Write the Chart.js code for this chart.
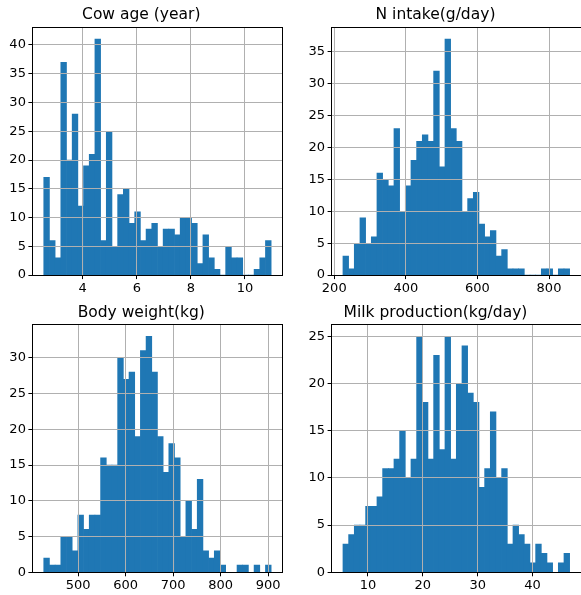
<!DOCTYPE html>
<html>
<head>
<meta charset="utf-8">
<script src="https://cdn.jsdelivr.net/npm/chart.js@4"></script>
<style>
  html, body { margin: 0; padding: 0; background: #fff; overflow: hidden; }
  body { width: 581px; height: 595px; position: relative; }
  canvas { position: absolute; }
</style>
</head>
<body>
<canvas id="ageChart" width="290" height="297" style="left:0;top:0"></canvas>
<canvas id="nChart" width="291" height="297" style="left:290px;top:0"></canvas>
<canvas id="bwChart" width="290" height="298" style="left:0;top:297px"></canvas>
<canvas id="milkChart" width="291" height="298" style="left:290px;top:297px"></canvas>
<script>
// histogram counts, 40 bins each
const ageCounts = [17, 6, 3, 37, 20, 28, 12, 19, 21, 41, 6, 25, 5, 14, 15, 9, 11, 6, 8, 9,
                   5, 8, 8, 7, 10, 10, 9, 2, 7, 3, 1, 0, 5, 3, 3, 0, 0, 1, 3, 6];
const nIntakeCounts = [3, 1, 5, 9, 5, 6, 16, 15, 14, 23, 10, 14, 18, 21, 22, 21, 32, 17, 37, 23,
                       21, 10, 12, 13, 8, 6, 7, 3, 4, 1, 1, 1, 0, 0, 0, 1, 1, 0, 1, 1];
const bodyWeightCounts = [2, 1, 1, 5, 5, 3, 8, 6, 8, 8, 16, 15, 15, 30, 27, 28, 19, 31, 33, 28,
                          19, 14, 18, 16, 5, 10, 6, 13, 3, 2, 3, 1, 0, 0, 1, 1, 0, 1, 0, 1];
const milkCounts = [3, 4, 5, 5, 7, 7, 8, 11, 11, 12, 15, 10, 12, 25, 18, 12, 23, 13, 25, 12,
                    20, 24, 19, 18, 9, 11, 17, 10, 11, 3, 5, 4, 3, 1, 3, 2, 1, 0, 1, 2];

// data range covered by the bins (first edge, last edge)
const ageRange = [2.56, 10.97];
const nIntakeRange = [224.3, 857.7];
const bodyWeightRange = [427.6, 906.3];
const milkRange = [5.44, 46.76];

// axis limits and tick steps
const ageXLim = [2.14, 11.39], ageXStep = 2, ageYMax = 43.05;
const nIntakeXLim = [192.6, 889.4], nIntakeXStep = 200, nIntakeYMax = 38.85;
const bodyWeightXLim = [403.7, 930.2], bodyWeightXStep = 100, bodyWeightYMax = 34.65;
const milkXLim = [3.37, 48.83], milkXStep = 10, milkYMax = 26.25;
const yStep = 5;

Chart.defaults.font.family = "'DejaVu Sans', sans-serif";
Chart.defaults.color = '#000';

function alignPx(v) {
    return Math.round(v - 0.5) + 0.5;
}

// matplotlib-style box around the axes
const spines = {
    id: 'spines',
    afterDraw(chart) {
        const a = chart.chartArea;
        const c = chart.ctx;
        c.save();
        c.strokeStyle = '#000';
        c.lineWidth = 1;
        const l = alignPx(a.left), r = alignPx(a.right);
        const t = alignPx(a.top), b = alignPx(a.bottom);
        c.strokeRect(l, t, r - l, b - t);
        c.restore();
    }
};

function binCenters(range, n) {
    const w = (range[1] - range[0]) / n;
    const out = [];
    for (let i = 0; i < n; i++) out.push(range[0] + (i + 0.5) * w);
    return out;
}

function makeHist(id, title, counts, range, xLim, xStep, yMax, area) {
    const canvas = document.getElementById(id);
    const W = canvas.width, H = canvas.height;
    const centers = binCenters(range, counts.length);
    const points = counts.map((c, i) => ({ x: centers[i], y: c }));
    const titleLine = 15.5 * 1.2;

    return new Chart(canvas, {
        type: 'bar',
        data: {
            datasets: [{
                data: points,
                backgroundColor: '#1f77b4',
                borderWidth: 0,
                barPercentage: 1,
                categoryPercentage: 1
            }]
        },
        options: {
            responsive: false,
            animation: false,
            devicePixelRatio: 1,
            layout: {
                padding: { left: 0, top: 0, right: W - area.right, bottom: H - area.bottom - 20 }
            },
            plugins: {
                legend: { display: false },
                tooltip: { enabled: false },
                title: {
                    display: true,
                    text: title,
                    font: { size: 15.5, weight: 'normal', lineHeight: 1.2 },
                    padding: { top: area.top - titleLine - 2.8, bottom: 2.8 }
                }
            },
            scales: {
                x: {
                    type: 'linear',
                    min: xLim[0],
                    max: xLim[1],
                    offset: false,
                    afterFit: s => { s.height = 20; },
                    border: { display: false },
                    grid: { offset: false, color: '#b0b0b0', lineWidth: 1, z: 1,
                            tickColor: '#000', tickLength: 4, tickWidth: 1 },
                    ticks: { stepSize: xStep, includeBounds: false, maxRotation: 0,
                             padding: 2, font: { size: 13 } }
                },
                y: {
                    min: 0,
                    max: yMax,
                    afterFit: s => { s.width = area.left; },
                    border: { display: false },
                    grid: { color: '#b0b0b0', lineWidth: 1, z: 1,
                            tickColor: '#000', tickLength: 4, tickWidth: 1 },
                    ticks: { stepSize: yStep, includeBounds: false, padding: 2.5, font: { size: 13 } }
                }
            }
        },
        plugins: [spines]
    });
}

makeHist('ageChart', 'Cow age (year)', ageCounts, ageRange, ageXLim, ageXStep, ageYMax,
         { left: 32.4, top: 27.4, right: 282.5, bottom: 275.1 });
makeHist('nChart', 'N intake(g/day)', nIntakeCounts, nIntakeRange, nIntakeXLim, nIntakeXStep, nIntakeYMax,
         { left: 41.6, top: 27.4, right: 291, bottom: 275.1 });
makeHist('bwChart', 'Body weight(kg)', bodyWeightCounts, bodyWeightRange, bodyWeightXLim, bodyWeightXStep, bodyWeightYMax,
         { left: 32.4, top: 27.6, right: 282.5, bottom: 275.3 });
makeHist('milkChart', 'Milk production(kg/day)', milkCounts, milkRange, milkXLim, milkXStep, milkYMax,
         { left: 41.6, top: 27.6, right: 291, bottom: 275.3 });
</script>
</body>
</html>
